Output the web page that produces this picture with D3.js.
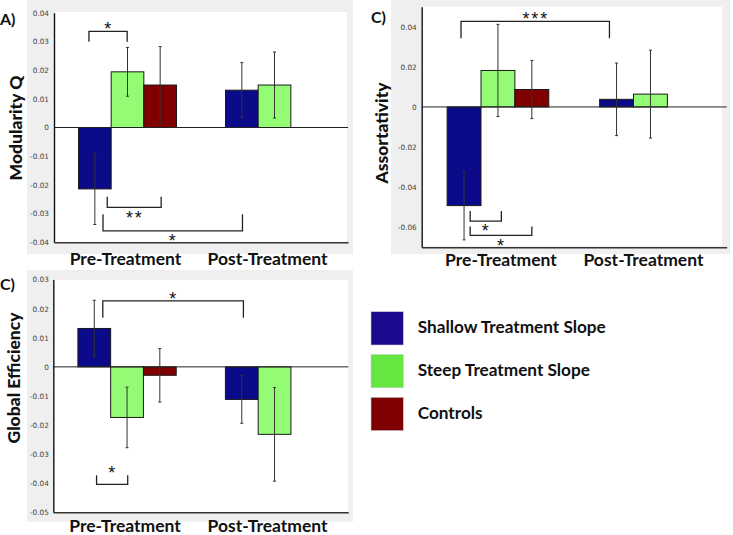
<!DOCTYPE html>
<html><head><meta charset="utf-8">
<script src="https://cdn.jsdelivr.net/npm/d3@7"></script>
<style>body{margin:0;background:#fff}svg{display:block}</style>
</head><body>
<svg id="chart" width="733" height="535"></svg>
<script>
// ---------- data ----------
const categories = ["Pre-Treatment", "Post-Treatment"];
const seriesNames = ["Shallow Treatment Slope", "Steep Treatment Slope", "Controls"];

// Modularity Q (values per category: Pre, Post)
const modShallow = [-0.0214, 0.0130];
const modSteep = [0.0194, 0.0148];
const modControls = [0.0148, 0];
const modShallowErr = [0.0124, 0.0096];
const modSteepErr = [0.0085, 0.0115];
const modControlsErr = [0.0134, 0];
const modTicks = [0.04, 0.03, 0.02, 0.01, 0, -0.01, -0.02, -0.03, -0.04];

// Assortativity
const asShallow = [-0.0492, 0.0038];
const asSteep = [0.0182, 0.0064];
const asControls = [0.0087, 0];
const asShallowErr = [0.0171, 0.0181];
const asSteepErr = [0.0230, 0.0219];
const asControlsErr = [0.0145, 0];
const asTicks = [0.04, 0.02, 0, -0.02, -0.04, -0.06];

// Global Efficiency
const geShallow = [0.0132, -0.0112];
const geSteep = [-0.0174, -0.0232];
const geControls = [-0.0029, 0];
const geShallowErr = [0.0097, 0.0082];
const geSteepErr = [0.0104, 0.0161];
const geControlsErr = [0.0092, 0];
const geTicks = [0.03, 0.02, 0.01, 0, -0.01, -0.02, -0.03, -0.04, -0.05];

// significance brackets: [category, bar-slot] ends, level of bar, level of leg tips, label
const modBrackets = [
  {from: [0, 0.32], to: [0, 1.49], level: 0.0335, leg: 0.0299, label: "*", side: "above"},
  {from: [0, 0.88], to: [0, 2.53], level: -0.0278, leg: -0.0241, label: "**", side: "below"},
  {from: [0, 0.75], to: [1, 0.52], level: -0.0360, leg: -0.0302, label: "*", side: "below"}
];
const asBrackets = [
  {from: [0, 0.41], to: [1, 0.29], level: 0.0427, leg: 0.0343, label: "***", side: "above"},
  {from: [0, 0.68], to: [0, 1.60], level: -0.0569, leg: -0.0519, label: "*", side: "below"},
  {from: [0, 0.68], to: [0, 2.50], level: -0.0641, leg: -0.0596, label: "*", side: "below"}
];
const geBrackets = [
  {from: [0, 0.76], to: [1, 0.55], level: 0.0227, leg: 0.0169, label: "*", side: "above"},
  {from: [0, 0.57], to: [0, 1.52], level: -0.0404, leg: -0.0373, label: "*", side: "above"}
];

// ---------- style ----------
const barColors = ["#0b0b8a", "#93fb74", "#800000"];
const legendColors = ["#1b0a8e", "#66e640", "#7e0000"];
const titleFont = "Lato, 'Open Sans', sans-serif";
const tickFont = "'DejaVu Sans', sans-serif";
const starFont = "'Liberation Sans', Arial, sans-serif";

const svg = d3.select("#chart");

function drawPanel(cfg) {
  const g = svg.append("g");
  g.append("rect").attr("x", cfg.gray[0]).attr("y", cfg.gray[1])
    .attr("width", cfg.gray[2] - cfg.gray[0]).attr("height", cfg.gray[3] - cfg.gray[1])
    .attr("fill", "#efefef");
  g.append("rect").attr("x", cfg.white[0]).attr("y", cfg.white[1])
    .attr("width", cfg.white[2] - cfg.white[0]).attr("height", cfg.white[3] - cfg.white[1])
    .attr("fill", "#ffffff");

  const x = d3.scaleBand().domain(d3.range(categories.length)).range(cfg.xRange)
    .paddingInner(1 / 3).paddingOuter(1 / 6);
  const xs = d3.scaleBand().domain(d3.range(seriesNames.length)).range([0, x.bandwidth()]);
  const y = d3.scaleLinear().domain(cfg.domain).range(cfg.yRange);

  // bars
  cfg.values.forEach((vals, s) => {
    g.selectAll(null).data(vals).enter().append("rect")
      .attr("x", (d, c) => x(c) + xs(s))
      .attr("y", d => Math.min(y(d), y(0)))
      .attr("width", xs.bandwidth())
      .attr("height", d => Math.abs(y(d) - y(0)))
      .attr("fill", barColors[s])
      .attr("stroke", "#1a1a1a").attr("stroke-width", 1);
  });

  // zero line
  g.append("line").attr("x1", cfg.xRange[0]).attr("x2", cfg.xRange[1])
    .attr("y1", y(0)).attr("y2", y(0)).attr("stroke", "#222").attr("stroke-width", 1);

  // error bars
  cfg.values.forEach((vals, s) => {
    vals.forEach((v, c) => {
      const e = cfg.errors[s][c];
      if (!e) return;
      const cx = x(c) + xs(s) + xs.bandwidth() / 2;
      const eg = g.append("g").attr("stroke", "#333").attr("stroke-width", 1);
      eg.append("line").attr("x1", cx).attr("x2", cx).attr("y1", y(v - e)).attr("y2", y(v + e));
      [v - e, v + e].forEach(t => eg.append("line").attr("x1", cx - 1.5).attr("x2", cx + 1.5)
        .attr("y1", y(t)).attr("y2", y(t)));
    });
  });

  // y axis
  const ya = g.append("g").attr("transform", `translate(${cfg.xRange[0]},0)`)
    .call(d3.axisLeft(y).tickValues(cfg.ticks).tickSize(0).tickPadding(cfg.tickPad)
      .tickFormat(v => v === 0 ? "0" : v.toFixed(2)));
  ya.select(".domain").attr("stroke", "#111").attr("stroke-width", 1.4);
  ya.selectAll("text").attr("font-family", tickFont).attr("font-size", 7.3).attr("fill", "#444");

  // x axis
  const xa = g.append("g").attr("transform", `translate(0,${cfg.yRange[0]})`)
    .call(d3.axisBottom(x).tickSize(0).tickPadding(cfg.labelPad).tickFormat(i => categories[i]));
  xa.select(".domain").attr("stroke", "#333").attr("stroke-width", 1.5);
  xa.selectAll("text").attr("font-family", titleFont).attr("font-weight", 700)
    .attr("font-size", 17.5).attr("fill", "#111")
    .attr("dx", (d, i) => cfg.labelShift[i]);

  // y title
  g.append("text").attr("transform", `translate(${cfg.title[0]},${cfg.title[1]}) rotate(-90)`)
    .attr("text-anchor", "middle").attr("dominant-baseline", "central")
    .attr("font-family", titleFont).attr("font-weight", 900).attr("font-size", 17.5)
    .attr("fill", "#111").text(cfg.titleText);

  // panel letter
  g.append("text").attr("x", cfg.letter[0]).attr("y", cfg.letter[1])
    .attr("font-family", titleFont).attr("font-weight", 700).attr("font-size", 16)
    .attr("fill", "#111").text(cfg.letterText);

  // brackets
  cfg.brackets.forEach(b => {
    const x1 = x(b.from[0]) + b.from[1] * xs.bandwidth();
    const x2 = x(b.to[0]) + b.to[1] * xs.bandwidth();
    g.append("path").attr("d", `M${x1},${y(b.leg)}V${y(b.level)}H${x2}V${y(b.leg)}`)
      .attr("fill", "none").attr("stroke", "#222").attr("stroke-width", 1.3);
    const top = Math.min(y(b.level), y(b.leg));
    const cy = b.side === "above" ? top - 6.5 : y(b.level) + 6;
    g.append("text").attr("x", (x1 + x2) / 2 + 0.5).attr("y", cy + 10.3)
      .attr("text-anchor", "middle").attr("font-family", starFont)
      .attr("font-size", 18).attr("letter-spacing", 1.8).attr("fill", "#111").text(b.label);
  });
}

drawPanel({
  gray: [27, 0, 353, 254], white: [54, 12, 347, 243],
  xRange: [54, 348], yRange: [242.3, 12.7], domain: [-0.04, 0.04],
  ticks: modTicks, tickPad: 5, labelPad: 10, labelShift: [-2, -7],
  values: [modShallow, modSteep, modControls],
  errors: [modShallowErr, modSteepErr, modControlsErr],
  brackets: modBrackets, title: [15, 128], titleText: "Modularity Q",
  letter: [0, 25], letterText: "A)"
});
drawPanel({
  gray: [391, 0, 730, 254], white: [421.7, 6.7, 722, 246],
  xRange: [421.7, 726.7], yRange: [247.3, 6.7], domain: [-0.07, 0.05],
  ticks: asTicks, tickPad: 5, labelPad: 6, labelShift: [3, -7],
  values: [asShallow, asSteep, asControls],
  errors: [asShallowErr, asSteepErr, asControlsErr],
  brackets: asBrackets, title: [381.7, 133], titleText: "Assortativity",
  letter: [371, 23], letterText: "C)"
});
drawPanel({
  gray: [27, 270, 353, 521.7], white: [53.3, 280, 348, 512.3],
  xRange: [53.3, 348.3], yRange: [512.3, 279.6], domain: [-0.05, 0.03],
  ticks: geTicks, tickPad: 4.5, labelPad: 7, labelShift: [-2, -7],
  values: [geShallow, geSteep, geControls],
  errors: [geShallowErr, geSteepErr, geControlsErr],
  brackets: geBrackets, title: [13.3, 378], titleText: "Global Efficiency",
  letter: [0, 290], letterText: "C)"
});

// legend
const lg = svg.append("g").attr("transform", "translate(371,311.7)");
seriesNames.forEach((name, i) => {
  const yy = i * 42.8;
  lg.append("rect").attr("x", 0).attr("y", yy).attr("width", 32.3).attr("height", 33.3)
    .attr("fill", legendColors[i]).attr("stroke", "#c8c8d8").attr("stroke-width", 0.6);
  lg.append("text").attr("x", 46.7).attr("y", yy + 21.5)
    .attr("font-family", titleFont).attr("font-weight", 700).attr("font-size", 17.2)
    .attr("fill", "#111").text(name);
});
</script>
</body></html>
